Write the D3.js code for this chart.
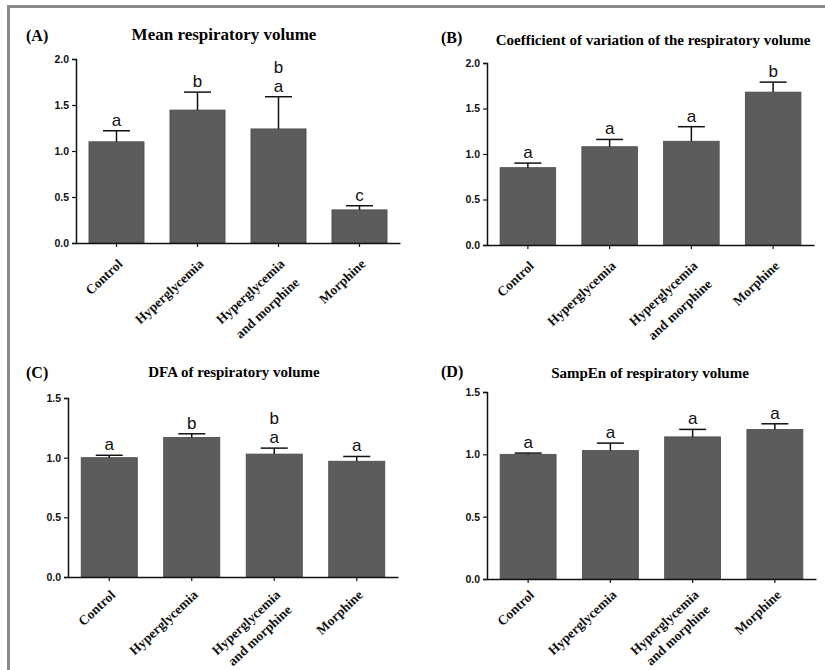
<!DOCTYPE html>
<html>
<head>
<meta charset="utf-8">
<script src="https://cdn.jsdelivr.net/npm/d3@7"></script>
<style>
  body { margin: 0; background: #fff; }
  svg { display: block; }
</style>
</head>
<body>
<svg id="chart" width="825" height="670"></svg>
<script>
// group names, same order in every panel
var categories = ["Control", "Hyperglycemia", "Hyperglycemia\nand morphine", "Morphine"];

// (A) mean respiratory volume
var meanVol = [1.10, 1.445, 1.24, 0.36];
var meanVolErr = [0.12, 0.195, 0.35, 0.045];
var meanVolLetters = [["a"], ["b"], ["b", "a"], ["c"]];

// (B) coefficient of variation
var cvVol = [0.85, 1.08, 1.14, 1.68];
var cvVolErr = [0.05, 0.08, 0.16, 0.11];
var cvVolLetters = [["a"], ["a"], ["a"], ["b"]];

// (C) DFA
var dfaVol = [1.00, 1.17, 1.03, 0.97];
var dfaVolErr = [0.02, 0.03, 0.05, 0.04];
var dfaVolLetters = [["a"], ["b"], ["b", "a"], ["a"]];

// (D) SampEn
var sampEnVol = [1.00, 1.03, 1.14, 1.20];
var sampEnVolErr = [0.01, 0.06, 0.06, 0.045];
var sampEnVolLetters = [["a"], ["a"], ["a"], ["a"]];

var ticks2 = [0, 0.5, 1.0, 1.5, 2.0];
var ticks15 = [0, 0.5, 1.0, 1.5];

var svg = d3.select("#chart");

// frame lines on top and left only
svg.append("line").attr("x1", 7).attr("x2", 825).attr("y1", 6.5).attr("y2", 6.5)
    .attr("stroke", "#8a8a8a").attr("stroke-width", 3);
svg.append("line").attr("x1", 8.5).attr("x2", 8.5).attr("y1", 5).attr("y2", 670)
    .attr("stroke", "#8a8a8a").attr("stroke-width", 3);

var panels = [
    {tag: "(A)", title: "Mean respiratory volume", titleSize: 17, titleX: 224, titleY: 40, tagX: 26, tagY: 41,
     left: 76, right: 400, top: 59, bottom: 243, max: 2, ticks: ticks2, lineGap: 1.75, labelDy: 22,
     values: meanVol, err: meanVolErr, letters: meanVolLetters},
    {tag: "(B)", title: "Coefficient of variation of the respiratory volume", titleSize: 15, titleX: 653, titleY: 45, tagX: 441, tagY: 43,
     left: 487, right: 814, top: 63, bottom: 245, max: 2, ticks: ticks2, lineGap: 1.7, labelDy: 22,
     values: cvVol, err: cvVolErr, letters: cvVolLetters},
    {tag: "(C)", title: "DFA of respiratory volume", titleSize: 15, titleX: 234, titleY: 377, tagX: 26, tagY: 378,
     left: 68, right: 398, top: 398, bottom: 577, max: 1.5, ticks: ticks15, lineGap: 1.38, labelDy: 19,
     values: dfaVol, err: dfaVolErr, letters: dfaVolLetters},
    {tag: "(D)", title: "SampEn of respiratory volume", titleSize: 15, titleX: 650, titleY: 378, tagX: 441, tagY: 377,
     left: 487, right: 816, top: 392, bottom: 579, max: 1.5, ticks: ticks15, lineGap: 1.35, labelDy: 17,
     values: sampEnVol, err: sampEnVolErr, letters: sampEnVolLetters}
];

panels.forEach(drawPanel);

function drawPanel(p) {
    var g = svg.append("g");

    var x = d3.scaleBand().domain(categories).range([p.left, p.right])
        .paddingInner(0.32).paddingOuter(0.16);
    var y = d3.scaleLinear().domain([0, p.max]).range([p.bottom, p.top]);

    g.append("text").attr("x", p.tagX).attr("y", p.tagY)
        .attr("font-family", "Liberation Serif, Times New Roman, serif")
        .attr("font-weight", "bold").attr("font-size", 16).text(p.tag);

    g.append("text").attr("x", p.titleX).attr("y", p.titleY)
        .attr("text-anchor", "middle")
        .attr("font-family", "Liberation Serif, Times New Roman, serif")
        .attr("font-weight", "bold").attr("font-size", p.titleSize).text(p.title);

    var data = categories.map(function(c, i) {
        return {cat: c, v: p.values[i], e: p.err[i], letters: p.letters[i]};
    });

    // bars
    g.selectAll("rect.bar").data(data).enter().append("rect")
        .attr("class", "bar")
        .attr("x", function(d) { return x(d.cat); })
        .attr("width", x.bandwidth())
        .attr("y", function(d) { return y(d.v); })
        .attr("height", function(d) { return y(0) - y(d.v); })
        .attr("fill", "#5c5c5c").attr("stroke", "#4a4a4a").attr("stroke-width", 0.8);

    // upper error bars
    var cap = 13.5;
    var eb = g.selectAll("g.err").data(data).enter().append("g").attr("class", "err");
    eb.append("line")
        .attr("x1", function(d) { return x(d.cat) + x.bandwidth() / 2; })
        .attr("x2", function(d) { return x(d.cat) + x.bandwidth() / 2; })
        .attr("y1", function(d) { return y(d.v); })
        .attr("y2", function(d) { return y(d.v + d.e); })
        .attr("stroke", "#111").attr("stroke-width", 1.5);
    eb.append("line")
        .attr("x1", function(d) { return x(d.cat) + x.bandwidth() / 2 - cap; })
        .attr("x2", function(d) { return x(d.cat) + x.bandwidth() / 2 + cap; })
        .attr("y1", function(d) { return y(d.v + d.e); })
        .attr("y2", function(d) { return y(d.v + d.e); })
        .attr("stroke", "#111").attr("stroke-width", 1.5);

    // significance letters, stacked upwards
    data.forEach(function(d) {
        var cx = x(d.cat) + x.bandwidth() / 2;
        var base = y(d.v + d.e) - 5;
        d.letters.slice().reverse().forEach(function(l, k) {
            g.append("text").attr("x", cx).attr("y", base - k * 19)
                .attr("text-anchor", "middle")
                .attr("font-family", "Liberation Sans, Arial, sans-serif")
                .attr("font-size", 17).attr("fill", "#111").text(l);
        });
    });

    // y axis
    var yAxis = d3.axisLeft(y).tickValues(p.ticks).tickFormat(d3.format(".1f"))
        .tickSize(4).tickPadding(3);
    var ya = g.append("g").attr("transform", "translate(" + p.left + ",0)").call(yAxis);
    ya.select(".domain").attr("stroke", "#111").attr("stroke-width", 1.5);
    ya.selectAll(".tick line").attr("stroke", "#111").attr("stroke-width", 1.2);
    ya.selectAll(".tick text")
        .attr("font-family", "Liberation Sans, Arial, sans-serif")
        .attr("font-weight", "bold").attr("font-size", 10.5).attr("fill", "#111");

    // x axis
    var xAxis = d3.axisBottom(x).tickSize(4).tickSizeOuter(0).tickFormat("");
    var xa = g.append("g").attr("transform", "translate(0," + p.bottom + ")").call(xAxis);
    xa.select(".domain").attr("stroke", "#111").attr("stroke-width", 1.5);
    xa.selectAll(".tick line").attr("stroke", "#111").attr("stroke-width", 1.2);

    // rotated category labels
    categories.forEach(function(c) {
        var cx = x(c) + x.bandwidth() / 2;
        var t = g.append("text")
            .attr("transform", "translate(" + (cx + 7) + "," + (p.bottom + p.labelDy) + ") rotate(-43)")
            .attr("text-anchor", "end")
            .attr("font-family", "Liberation Serif, Times New Roman, serif")
            .attr("font-weight", "bold").attr("font-size", 13.5).attr("fill", "#111");
        c.split("\n").forEach(function(line, k) {
            t.append("tspan").attr("x", k * -2).attr("dy", k === 0 ? 0 : p.lineGap + "em").text(line);
        });
    });
}
</script>
</body>
</html>
